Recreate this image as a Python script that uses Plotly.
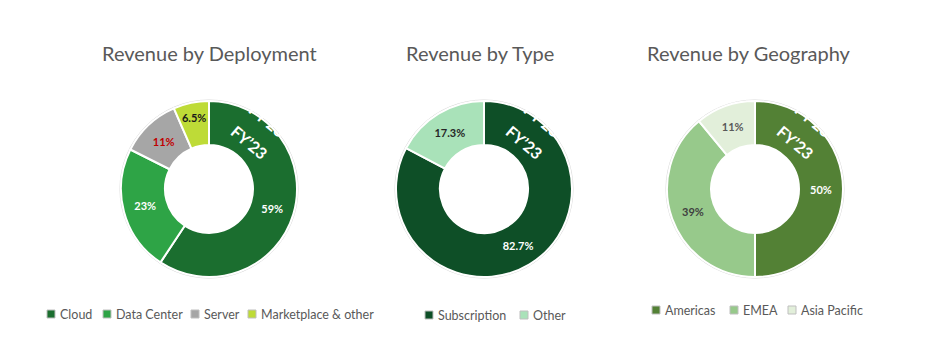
import plotly.graph_objects as go

W, H = 939, 363
OFF = 8  # page body margin
FW, FH = W - 2 * OFF, H - 2 * OFF

# ---- data ----
dep_title = "Revenue by Deployment"
dep_labels = ["Cloud", "Data Center", "Server", "Marketplace & other"]
dep_values = [59, 23, 11, 6.5]
dep_text = ["59%", "23%", "11%", "6.5%"]

type_title = "Revenue by Type"
type_labels = ["Subscription", "Other"]
type_values = [82.7, 17.3]
type_text = ["82.7%", "17.3%"]

geo_title = "Revenue by Geography"
geo_labels = ["Americas", "EMEA", "Asia Pacific"]
geo_values = [50, 39, 11]
geo_text = ["50%", "39%", "11%"]

fy_label = "FY’23"

# ---- styles ----
dep_colors = ["#1b6e2f", "#2ea446", "#a6a6a6", "#bedb37"]
dep_textcolors = ["white", "white", "#c00000", "#1a1a1a"]
type_colors = ["#0e4f27", "#a9e2b9"]
type_textcolors = ["white", "#262626"]
geo_colors = ["#538135", "#97c98b", "#e2efda"]
geo_textcolors = ["white", "#404040", "#595959"]

FONT = "Lato"
GREY = "#595959"

charts = [
    dict(title=dep_title, labels=dep_labels, values=dep_values, text=dep_text,
         colors=dep_colors, tcolors=dep_textcolors, cx=209, cy=189, r=88,
         title_x=209, leg_y=314, leg_x=[47, 103, 191, 248]),
    dict(title=type_title, labels=type_labels, values=type_values, text=type_text,
         colors=type_colors, tcolors=type_textcolors, cx=484, cy=189, r=88,
         title_x=480, leg_y=315, leg_x=[425, 520]),
    dict(title=geo_title, labels=geo_labels, values=geo_values, text=geo_text,
         colors=geo_colors, tcolors=geo_textcolors, cx=755, cy=189, r=88,
         title_x=749, leg_y=310, leg_x=[652, 730, 788]),
]

def px(x):
    return (x - OFF) / FW

def py(y):
    return 1 - (y - OFF) / FH

fig = go.Figure()
annotations = []
shapes = []

for c in charts:
    cx, cy, r = c["cx"], c["cy"], c["r"]
    fig.add_trace(go.Pie(
        labels=c["labels"], values=c["values"], text=c["text"],
        textinfo="text", textposition="inside",
        insidetextorientation="horizontal",
        textfont=dict(family=FONT, size=11, color=c["tcolors"], weight="bold"),
        marker=dict(colors=c["colors"], line=dict(color="white", width=2)),
        hole=0.5, sort=False, direction="clockwise", rotation=0,
        domain=dict(x=[px(cx - r), px(cx + r)], y=[py(cy + r), py(cy - r)]),
        showlegend=False, hoverinfo="label+percent",
    ))
    # outer thin border
    shapes.append(dict(type="circle", xref="paper", yref="paper",
                       x0=px(cx - r - 1), x1=px(cx + r + 1),
                       y0=py(cy + r + 1), y1=py(cy - r - 1),
                       line=dict(color="#d9d9d9", width=1), layer="below"))
    # title
    annotations.append(dict(text=c["title"], x=px(c["title_x"]), y=py(53),
                            xref="paper", yref="paper", showarrow=False,
                            xanchor="center", yanchor="middle",
                            font=dict(family=FONT, size=20, color=GREY)))
    # FY'23 rotated labels
    for dx, dy in [(41, -47), (59, -69)]:
        annotations.append(dict(text="<b>" + fy_label + "</b>",
                                x=px(cx + dx), y=py(cy + dy),
                                xref="paper", yref="paper", showarrow=False,
                                xanchor="center", yanchor="middle", textangle=40,
                                font=dict(family=FONT, size=16, color="white")))
    # legend
    ly = c["leg_y"]
    for lab, col, lx in zip(c["labels"], c["colors"], c["leg_x"]):
        shapes.append(dict(type="rect", xref="paper", yref="paper",
                           x0=px(lx), x1=px(lx + 8), y0=py(ly + 4), y1=py(ly - 4),
                           fillcolor=col, line=dict(color="#bfbfbf", width=1)))
        annotations.append(dict(text=lab, x=px(lx + 11), y=py(ly),
                                xref="paper", yref="paper", showarrow=False,
                                xanchor="left", yanchor="middle",
                                font=dict(family=FONT, size=12.5, color=GREY)))

fig.update_layout(
    width=FW, height=FH,
    margin=dict(l=0, r=0, t=0, b=0),
    paper_bgcolor="white", plot_bgcolor="white",
    annotations=annotations, shapes=shapes,
    showlegend=False,
)

fig.write_html("out.html")
